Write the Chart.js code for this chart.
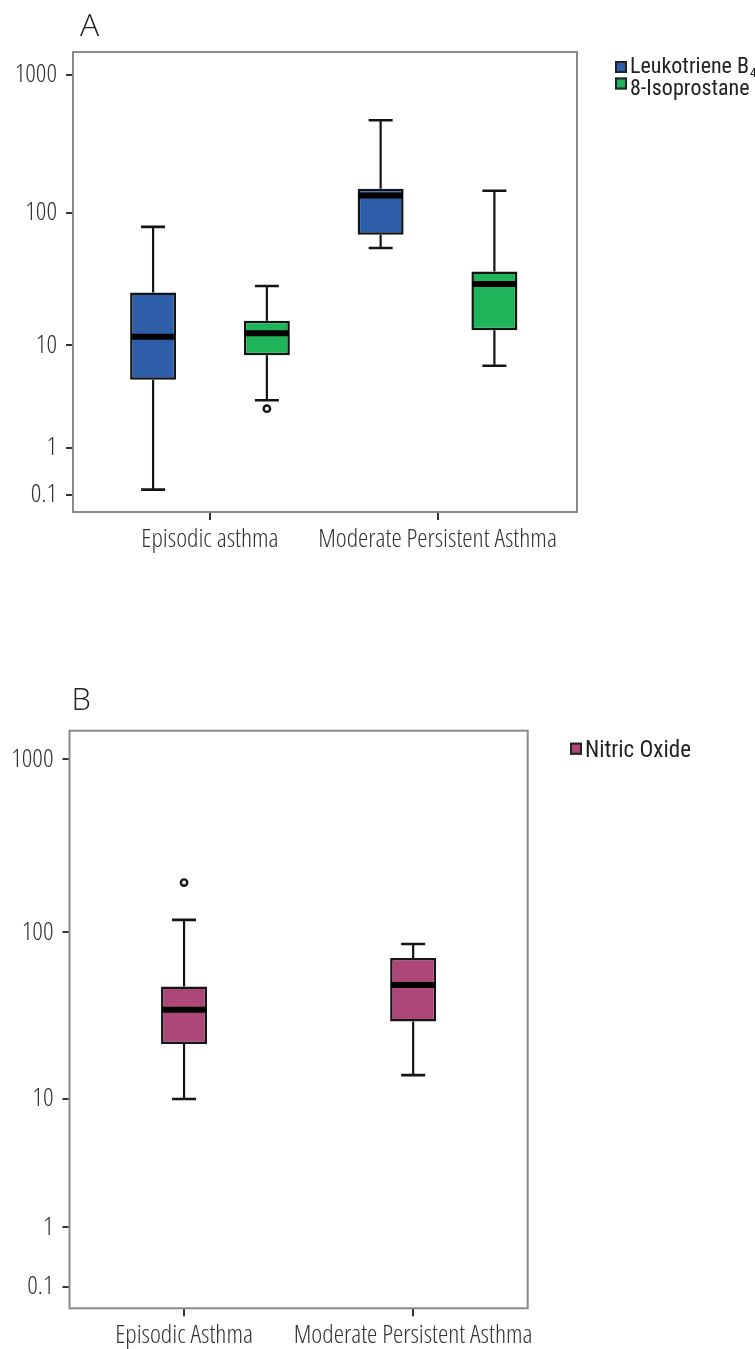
<!DOCTYPE html>
<html>
<head>
<meta charset="utf-8">
<script src="https://cdn.jsdelivr.net/npm/chart.js@4.4.1/dist/chart.umd.min.js"></script>
<style>
  html, body { margin: 0; padding: 0; background: #ffffff; }
  body { width: 755px; height: 1349px; position: relative; overflow: hidden; }
  .panel { position: absolute; left: 0; width: 755px; }
  #wrapA { top: 0; height: 620px; }
  #wrapB { top: 640px; height: 709px; }
</style>
</head>
<body>
<div class="panel" id="wrapA"><canvas id="chartA" width="755" height="620"></canvas></div>
<div class="panel" id="wrapB"><canvas id="chartB" width="755" height="709"></canvas></div>
<script>
// ---------------- DATA ----------------
const categoriesA = ['Episodic asthma', 'Moderate Persistent Asthma'];
const categoriesB = ['Episodic Asthma', 'Moderate Persistent Asthma'];
const yTickValues = [0.1, 1, 10, 100, 1000];

// Panel A: Leukotriene B4
const ltb4Min      = [0.13, 54];
const ltb4Q1       = [4.6, 68];
const ltb4Median   = [11.6, 133];
const ltb4Q3       = [25, 149];
const ltb4Max      = [78, 468];
const ltb4Outliers = [[], []];

// Panel A: 8-Isoprostane
const isoMin      = [2.9, 6.3];
const isoQ1       = [8.0, 13];
const isoMedian   = [12.3, 29];
const isoQ3       = [15.3, 36];
const isoMax      = [28, 144];
const isoOutliers = [[2.4], []];

// Panel B: Nitric Oxide
const noMin      = [10, 13.9];
const noQ1       = [21.4, 29.2];
const noMedian   = [34.3, 48.3];
const noQ3       = [47.3, 70.2];
const noMax      = [118, 85];
const noOutliers = [[194], []];

// ---------------- custom axis: log decades with uneven spacing ----------------
class SegmentedLogScale extends Chart.Scale {
  static id = 'segmentedLog';
  static defaults = {};
  parse(raw) {
    const v = +raw;
    return Number.isFinite(v) && v > 0 ? v : null;
  }
  determineDataLimits() {
    this.min = this.options.min;
    this.max = this.options.max;
  }
  buildTicks() {
    return Array.from(this.options.anchorValues).map(v => ({ value: v }));
  }
  getLabelForValue(v) { return String(v); }
  _decimal(v) {
    const vals = Array.from(this.options.anchorValues).map(Math.log10);
    const fr = Array.from(this.options.anchorFractions);
    const lv = Math.log10(v);
    let i = 0;
    if (lv >= vals[vals.length - 1]) i = vals.length - 2;
    else if (lv > vals[0]) { while (lv > vals[i + 1]) i++; }
    const t = (lv - vals[i]) / (vals[i + 1] - vals[i]);
    return fr[i] + t * (fr[i + 1] - fr[i]);
  }
  getPixelForValue(v) {
    if (v === null || v === undefined || !(v > 0)) v = this.min;
    return this.getPixelForDecimal(this._decimal(v));
  }
  getValueForPixel(p) {
    const d = this.getDecimalForPixel(p);
    const vals = Array.from(this.options.anchorValues).map(Math.log10);
    const fr = Array.from(this.options.anchorFractions);
    let i = 0;
    if (d >= fr[fr.length - 1]) i = fr.length - 2;
    else if (d > fr[0]) { while (d > fr[i + 1]) i++; }
    const t = (d - fr[i]) / (fr[i + 1] - fr[i]);
    return Math.pow(10, vals[i] + t * (vals[i + 1] - vals[i]));
  }
}
Chart.register(SegmentedLogScale);

// ---------------- fonts ----------------
const AXIS_FAMILY = '"Open Sans", "Liberation Sans", sans-serif';
const AXIS_WEIGHT = '300 condensed';
const LEGEND_FAMILY = '"Roboto Condensed", "Liberation Sans Narrow", sans-serif';

// ---------------- plugins ----------------
const INK = '#141414';

const boxWhiskerPlugin = {
  id: 'boxWhisker',
  beforeDatasetsDraw(chart) {
    const ctx = chart.ctx, y = chart.scales.y;
    ctx.save();
    ctx.strokeStyle = INK;
    chart.data.datasets.forEach((ds, d) => {
      const meta = chart.getDatasetMeta(d);
      meta.data.forEach((bar, i) => {
        const x = bar.x;
        const pMax = y.getPixelForValue(ds.stats.max[i]);
        const pMin = y.getPixelForValue(ds.stats.min[i]);
        const pQ3 = y.getPixelForValue(ds.stats.q3[i]);
        const pQ1 = y.getPixelForValue(ds.stats.q1[i]);
        ctx.lineWidth = 2.2;
        ctx.beginPath();
        ctx.moveTo(x, pQ3); ctx.lineTo(x, pMax);
        ctx.moveTo(x, pQ1); ctx.lineTo(x, pMin);
        ctx.stroke();
        ctx.lineWidth = 2.6;
        ctx.beginPath();
        ctx.moveTo(x - 12, pMax); ctx.lineTo(x + 12, pMax);
        ctx.moveTo(x - 12, pMin); ctx.lineTo(x + 12, pMin);
        ctx.stroke();
      });
    });
    ctx.restore();
  },
  afterDatasetsDraw(chart) {
    const ctx = chart.ctx, y = chart.scales.y;
    ctx.save();
    chart.data.datasets.forEach((ds, d) => {
      const meta = chart.getDatasetMeta(d);
      meta.data.forEach((bar, i) => {
        const x = bar.x, w = bar.width;
        const pMed = y.getPixelForValue(ds.stats.median[i]);
        ctx.strokeStyle = '#000';
        ctx.lineWidth = 6;
        ctx.beginPath();
        ctx.moveTo(x - w / 2 + 1, pMed); ctx.lineTo(x + w / 2 - 1, pMed);
        ctx.stroke();
        (ds.stats.outliers[i] || []).forEach(o => {
          const py = y.getPixelForValue(o);
          ctx.beginPath();
          ctx.arc(x, py, 3.2, 0, Math.PI * 2);
          ctx.fillStyle = '#fff';
          ctx.fill();
          ctx.lineWidth = 2.4;
          ctx.strokeStyle = INK;
          ctx.stroke();
        });
      });
    });
    ctx.restore();
  }
};

const framePlugin = {
  id: 'frame',
  afterDatasetsDraw(chart) {
    const { left, right, top, bottom } = chart.chartArea;
    const ctx = chart.ctx;
    ctx.save();
    ctx.strokeStyle = '#8a8a8a';
    ctx.lineWidth = 2;
    ctx.strokeRect(left, top, right - left, bottom - top);
    ctx.restore();
  }
};

function drawRichText(ctx, text, x, y, size, family) {
  // handles unicode subscript digits
  const subMap = { '₀':'0','₁':'1','₂':'2','₃':'3','₄':'4','₅':'5','₆':'6','₇':'7','₈':'8','₉':'9' };
  let cx = x;
  for (const ch of text) {
    if (subMap[ch]) {
      ctx.font = `${Math.round(size * 0.6)}px ${family}`;
      ctx.fillText(subMap[ch], cx + 1, y + size * 0.18);
      cx += ctx.measureText(subMap[ch]).width + 1;
    } else {
      ctx.font = `${size}px ${family}`;
      ctx.fillText(ch, cx, y);
      cx += ctx.measureText(ch).width;
    }
  }
}

const decorPlugin = {
  id: 'decor',
  afterDraw(chart, args, opts) {
    const ctx = chart.ctx;
    ctx.save();
    ctx.fillStyle = '#222';
    ctx.textBaseline = 'alphabetic';
    ctx.textAlign = 'left';
    ctx.font = `300 ${opts.letterSize}px ${AXIS_FAMILY}`;
    ctx.fillText(opts.letter, opts.letterX, opts.letterY);
    chart.data.datasets.forEach((ds, i) => {
      const bx = opts.boxX, by = opts.boxTop + i * opts.boxStep, s = opts.boxSize;
      ctx.fillStyle = ds.backgroundColor;
      ctx.fillRect(bx, by, s, s);
      ctx.lineWidth = 2;
      ctx.strokeStyle = '#222';
      ctx.strokeRect(bx + 1, by + 1, s - 2, s - 2);
      ctx.fillStyle = '#222';
      drawRichText(ctx, ds.label, opts.textX, opts.textBaseline + i * opts.textStep, opts.textSize, LEGEND_FAMILY);
    });
    ctx.restore();
  }
};

// ---------------- chart builder ----------------
Chart.defaults.font.family = AXIS_FAMILY;
Chart.defaults.color = '#333';

function makeDataset(label, color, q1, q3, min, median, max, outliers, barPct) {
  return {
    label,
    data: q1.map((v, i) => ({ x: i, y: [v, q3[i]] })),
    stats: { q1, q3, min, median, max, outliers },
    backgroundColor: color,
    borderColor: INK,
    borderWidth: 2.5,
    borderSkipped: false,
    categoryPercentage: 1.0,
    barPercentage: barPct
  };
}

function makeOptions(cfg) {
  const tickFont = { family: AXIS_FAMILY, size: 26, weight: AXIS_WEIGHT };
  return {
    responsive: false,
    animation: false,
    events: [],
    layout: { padding: cfg.padding },
    plugins: {
      legend: { display: false },
      tooltip: { enabled: false },
      decor: cfg.decor
    },
    scales: {
      x: {
        type: 'linear',
        min: cfg.xMin, max: cfg.xMax,
        offset: false,
        afterBuildTicks: s => { s.ticks = cfg.categories.map((_, i) => ({ value: i })); },
        afterFit: s => { s.height = cfg.xAxisHeight; },
        ticks: {
          autoSkip: false, maxRotation: 0, minRotation: 0, padding: 4,
          color: '#333', font: tickFont,
          callback: v => cfg.categories[v]
        },
        grid: { display: true, drawOnChartArea: false, drawTicks: true, tickLength: 8, lineWidth: 2, color: '#333', offset: false },
        border: { display: false }
      },
      y: {
        type: 'segmentedLog',
        min: 0.045, max: 1470,
        anchorValues: yTickValues,
        anchorFractions: [0.037, 0.14, 0.3624, 0.651, 0.9503],
        afterFit: s => { s.width = cfg.yAxisWidth; },
        ticks: { autoSkip: false, padding: 9, color: '#333', font: tickFont },
        grid: { display: true, drawOnChartArea: false, drawTicks: true, tickLength: 7, lineWidth: 2, color: '#333' },
        border: { display: false }
      }
    }
  };
}

new Chart(document.getElementById('chartA'), {
  type: 'bar',
  data: {
    datasets: [
      makeDataset('Leukotriene B₄', '#2E5EAA', ltb4Q1, ltb4Q3, ltb4Min, ltb4Median, ltb4Max, ltb4Outliers, 0.404),
      makeDataset('8-Isoprostane', '#1DB45A', isoQ1, isoQ3, isoMin, isoMedian, isoMax, isoOutliers, 0.404)
    ]
  },
  options: makeOptions({
    categories: categoriesA,
    padding: { left: 0, top: 52, right: 178, bottom: 48 },
    xMin: -0.602, xMax: 1.613,
    xAxisHeight: 60, yAxisWidth: 73,
    decor: {
      letter: 'A', letterX: 80, letterY: 36, letterSize: 32,
      boxX: 615, boxTop: 61, boxStep: 16.5, boxSize: 12,
      textX: 630, textBaseline: 73.3, textStep: 22, textSize: 22
    }
  }),
  plugins: [boxWhiskerPlugin, framePlugin, decorPlugin]
});

new Chart(document.getElementById('chartB'), {
  type: 'bar',
  data: {
    datasets: [
      makeDataset('Nitric Oxide', '#AE4779', noQ1, noQ3, noMin, noMedian, noMax, noOutliers, 0.2009)
    ]
  },
  options: makeOptions({
    categories: categoriesB,
    padding: { left: 0, top: 90.7, right: 227.3, bottom: 0 },
    xMin: -0.5, xMax: 1.5,
    xAxisHeight: 40.7, yAxisWidth: 69.5,
    decor: {
      letter: 'B', letterX: 71.5, letterY: 70, letterSize: 31,
      boxX: 570, boxTop: 102.7, boxStep: 16.5, boxSize: 12,
      textX: 585, textBaseline: 116.7, textStep: 22, textSize: 23
    }
  }),
  plugins: [boxWhiskerPlugin, framePlugin, decorPlugin]
});
</script>
</body>
</html>
